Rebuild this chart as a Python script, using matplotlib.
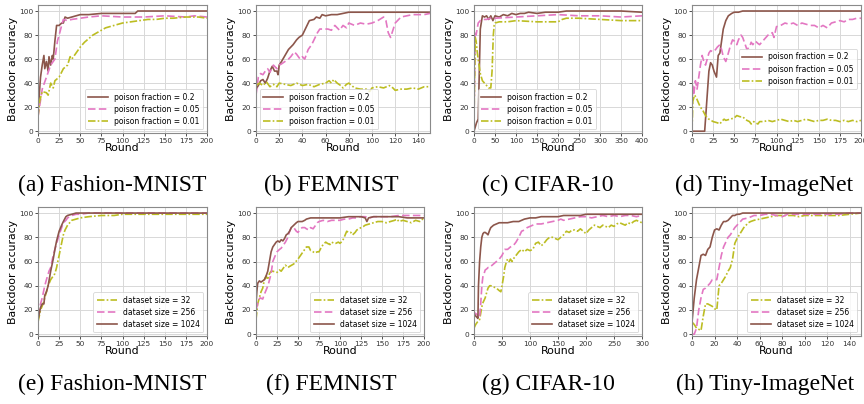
import matplotlib
matplotlib.use("Agg")
import matplotlib.pyplot as plt

# ---------------- data ----------------
# (a) Fashion-MNIST, poison fraction
a_x_hi = [0, 3, 5, 7, 8, 10, 12, 13, 15, 17, 18, 20, 22, 25, 28, 30, 32, 35, 40, 45, 50, 60, 75, 100, 115, 118, 125, 150, 175, 200]
a_y_hi = [15, 45, 55, 63, 52, 58, 50, 62, 55, 63, 60, 75, 88, 88, 90, 90, 95, 94, 95, 96, 97, 97, 98, 98, 98, 100, 100, 100, 100, 100]
a_x_mid = [0, 5, 10, 15, 20, 23, 25, 28, 30, 35, 40, 50, 60, 75, 100, 125, 150, 175, 185, 200]
a_y_mid = [12, 35, 45, 55, 60, 75, 80, 88, 93, 92, 93, 94, 95, 96, 95, 95, 96, 95, 96, 95]
a_x_lo = [0, 2, 5, 10, 12, 15, 18, 20, 25, 30, 35, 38, 40, 45, 50, 55, 60, 65, 70, 75, 80, 90, 100, 110, 120, 130, 140, 150, 160, 175, 190, 200]
a_y_lo = [12, 25, 33, 32, 30, 40, 36, 42, 45, 52, 55, 62, 60, 65, 70, 74, 77, 80, 82, 84, 86, 88, 90, 91, 92, 93, 93, 94, 94, 95, 95, 94]

# (b) FEMNIST, poison fraction
b_x_hi = [0, 2, 4, 6, 8, 10, 12, 14, 16, 18, 19, 20, 22, 25, 28, 30, 32, 35, 37, 40, 42, 44, 46, 50, 52, 55, 57, 60, 65, 70, 75, 80, 85, 90, 100, 120, 140, 150]
b_y_hi = [35, 38, 42, 43, 40, 44, 50, 54, 50, 50, 47, 55, 58, 63, 68, 70, 72, 76, 78, 80, 84, 88, 92, 93, 95, 94, 97, 96, 97, 97, 98, 99, 99, 99, 99, 99, 99, 99]
b_x_mid = [0, 2, 4, 6, 8, 10, 12, 15, 18, 20, 22, 25, 28, 30, 33, 35, 38, 40, 42, 45, 48, 50, 53, 55, 60, 62, 65, 68, 70, 72, 75, 78, 80, 85, 90, 95, 100, 105, 110, 112, 114, 116, 118, 120, 125, 130, 135, 140, 145, 150]
b_y_mid = [30, 45, 48, 47, 50, 52, 49, 55, 52, 55, 56, 58, 60, 62, 66, 64, 60, 62, 60, 68, 72, 76, 82, 85, 85, 85, 84, 88, 86, 84, 88, 86, 90, 88, 90, 89, 90, 92, 95, 92, 82, 78, 84, 90, 95, 96, 97, 97, 97, 98]
b_x_lo = [0, 3, 6, 9, 12, 15, 18, 20, 25, 30, 35, 40, 45, 50, 55, 60, 63, 65, 67, 70, 73, 75, 78, 80, 85, 90, 95, 98, 100, 105, 110, 115, 118, 120, 125, 130, 135, 140, 145, 150]
b_y_lo = [38, 40, 38, 41, 37, 39, 37, 40, 39, 38, 40, 38, 39, 37, 39, 40, 42, 40, 43, 40, 38, 36, 39, 40, 36, 35, 35, 33, 36, 37, 36, 38, 36, 34, 35, 35, 36, 35, 37, 37]

# (c) CIFAR-10, poison fraction
c_x_hi = [0, 6, 10, 15, 20, 25, 30, 35, 40, 45, 50, 60, 70, 80, 90, 100, 110, 120, 130, 150, 170, 200, 220, 250, 300, 350, 400]
c_y_hi = [0, 7, 10, 85, 96, 95, 96, 93, 96, 92, 96, 95, 97, 96, 98, 97, 98, 98, 99, 98, 99, 99, 100, 100, 100, 100, 99]
c_x_mid = [0, 3, 5, 10, 15, 20, 30, 40, 50, 100, 150, 200, 250, 300, 350, 400]
c_y_mid = [10, 82, 80, 90, 92, 93, 93, 94, 94, 95, 96, 97, 96, 96, 95, 96]
c_x_lo = [0, 3, 5, 8, 12, 15, 20, 25, 30, 35, 40, 43, 46, 48, 50, 60, 80, 100, 150, 200, 210, 220, 250, 300, 350, 400]
c_y_lo = [10, 78, 75, 65, 55, 48, 42, 40, 38, 36, 36, 50, 80, 88, 90, 91, 91, 92, 91, 91, 93, 94, 94, 93, 92, 92]

# (d) Tiny-ImageNet, poison fraction
d_x_hi = [0, 15, 17, 20, 22, 24, 26, 29, 31, 33, 35, 37, 40, 43, 47, 50, 55, 60, 70, 100, 150, 200]
d_y_hi = [0, 0, 20, 50, 57, 55, 50, 45, 63, 65, 75, 85, 92, 96, 98, 99, 99, 100, 100, 100, 100, 100]
d_x_mid = [0, 1, 2, 4, 6, 8, 10, 12, 14, 16, 18, 20, 22, 25, 28, 30, 33, 35, 37, 40, 43, 45, 48, 50, 53, 55, 58, 60, 63, 65, 68, 70, 72, 75, 78, 80, 85, 90, 95, 97, 100, 105, 110, 115, 120, 125, 130, 135, 140, 145, 150, 155, 160, 165, 170, 175, 180, 185, 190, 195, 200]
d_y_mid = [20, 38, 30, 42, 35, 45, 55, 63, 58, 55, 60, 65, 67, 66, 68, 70, 72, 68, 62, 58, 65, 70, 76, 75, 72, 76, 80, 78, 72, 68, 70, 74, 72, 75, 73, 72, 76, 80, 82, 78, 87, 88, 90, 89, 90, 88, 90, 89, 88, 88, 86, 88, 86, 90, 91, 92, 91, 93, 93, 94, 94]
d_x_lo = [0, 1, 3, 5, 8, 10, 13, 16, 20, 25, 30, 33, 35, 38, 40, 45, 50, 53, 57, 60, 63, 65, 68, 70, 73, 75, 78, 80, 85, 90, 95, 100, 105, 110, 115, 120, 125, 130, 135, 140, 145, 150, 155, 160, 165, 170, 175, 180, 185, 190, 195, 200]
d_y_lo = [0, 25, 30, 28, 23, 20, 17, 13, 10, 8, 7, 6, 8, 10, 9, 10, 11, 13, 12, 12, 10, 9, 8, 6, 8, 7, 6, 8, 8, 9, 8, 9, 10, 9, 8, 9, 8, 9, 10, 9, 8, 9, 9, 10, 9, 9, 8, 9, 8, 9, 8, 9]

# (e) Fashion-MNIST, dataset size
e_x_32 = [0, 3, 6, 8, 10, 12, 15, 18, 20, 22, 24, 25, 27, 30, 32, 35, 40, 45, 50, 60, 75, 90, 100, 125, 150, 175, 200]
e_y_32 = [10, 20, 25, 30, 35, 40, 45, 48, 50, 55, 62, 65, 72, 82, 86, 90, 94, 95, 96, 97, 98, 98, 99, 99, 99, 99, 99]
e_x_256 = [0, 3, 5, 8, 10, 13, 15, 18, 20, 22, 25, 28, 30, 33, 35, 40, 45, 50, 60, 200]
e_y_256 = [15, 25, 30, 40, 45, 52, 55, 65, 70, 75, 82, 88, 92, 94, 96, 98, 99, 99, 100, 100]
e_x_1024 = [0, 3, 5, 7, 8, 10, 12, 15, 18, 20, 22, 25, 28, 30, 33, 35, 40, 45, 200]
e_y_1024 = [12, 22, 25, 25, 32, 35, 40, 52, 62, 70, 77, 85, 90, 93, 97, 98, 99, 100, 100]

# (f) FEMNIST, dataset size
f_x_32 = [0, 2, 4, 6, 8, 10, 12, 14, 16, 18, 20, 25, 28, 30, 33, 35, 38, 40, 45, 50, 55, 58, 60, 63, 65, 68, 70, 73, 75, 78, 80, 83, 85, 88, 90, 93, 95, 98, 100, 103, 105, 108, 110, 113, 115, 118, 120, 125, 128, 130, 135, 140, 145, 150, 155, 160, 165, 168, 170, 175, 180, 185, 190, 195, 200]
f_y_32 = [12, 25, 30, 35, 38, 45, 48, 45, 50, 52, 52, 51, 53, 52, 55, 57, 55, 56, 58, 62, 67, 70, 72, 72, 69, 68, 67, 68, 68, 72, 74, 76, 75, 74, 76, 75, 75, 76, 75, 77, 80, 85, 84, 84, 82, 84, 86, 88, 89, 90, 91, 92, 93, 93, 92, 93, 94, 95, 93, 94, 93, 92, 94, 93, 96]
f_x_256 = [0, 3, 5, 8, 10, 13, 15, 18, 20, 23, 25, 28, 30, 33, 35, 38, 40, 42, 45, 48, 50, 53, 55, 58, 60, 63, 65, 68, 70, 73, 75, 80, 85, 90, 95, 100, 105, 110, 115, 120, 125, 130, 135, 140, 150, 160, 170, 180, 190, 200]
f_y_256 = [20, 28, 30, 29, 33, 38, 42, 50, 60, 65, 68, 70, 71, 74, 76, 80, 85, 88, 88, 85, 84, 87, 88, 88, 87, 86, 88, 87, 89, 92, 93, 94, 93, 94, 94, 94, 95, 95, 96, 96, 97, 97, 96, 97, 97, 97, 98, 98, 98, 98]
f_x_1024 = [0, 1, 2, 4, 6, 8, 10, 12, 14, 16, 18, 20, 22, 24, 26, 28, 30, 32, 34, 36, 38, 40, 42, 45, 48, 50, 55, 58, 60, 65, 70, 75, 80, 90, 100, 110, 120, 125, 130, 132, 134, 140, 150, 160, 170, 180, 190, 200]
f_y_1024 = [25, 35, 42, 44, 43, 44, 45, 48, 52, 60, 68, 72, 74, 76, 77, 76, 78, 77, 79, 82, 83, 85, 88, 90, 92, 93, 93, 94, 95, 96, 96, 96, 96, 96, 96, 97, 97, 97, 96, 93, 96, 97, 97, 97, 97, 96, 96, 96]

# (g) CIFAR-10, dataset size
g_x_32 = [0, 3, 6, 10, 13, 15, 18, 20, 23, 25, 28, 30, 35, 40, 45, 48, 50, 53, 55, 58, 60, 63, 65, 68, 70, 75, 80, 85, 90, 95, 100, 105, 110, 115, 120, 125, 130, 135, 140, 145, 150, 155, 160, 165, 170, 175, 180, 185, 190, 195, 200, 205, 210, 215, 220, 225, 230, 235, 240, 245, 250, 255, 260, 265, 270, 275, 280, 285, 290, 295, 300]
g_y_32 = [5, 8, 10, 12, 20, 25, 28, 30, 35, 38, 40, 40, 39, 38, 36, 35, 40, 48, 55, 60, 62, 60, 62, 60, 62, 65, 68, 70, 68, 70, 69, 70, 75, 76, 73, 75, 78, 80, 80, 79, 78, 80, 82, 85, 84, 86, 86, 85, 87, 85, 83, 86, 88, 90, 89, 88, 90, 89, 88, 90, 89, 91, 92, 91, 90, 92, 91, 93, 94, 93, 92]
g_x_256 = [0, 3, 6, 8, 10, 12, 14, 16, 18, 20, 23, 25, 28, 30, 35, 40, 45, 50, 55, 60, 65, 70, 75, 80, 85, 90, 95, 100, 110, 120, 130, 140, 150, 155, 160, 170, 180, 190, 200, 210, 220, 230, 240, 250, 260, 270, 280, 290, 300]
g_y_256 = [18, 17, 16, 13, 14, 25, 40, 48, 50, 53, 54, 55, 55, 56, 58, 60, 62, 65, 70, 70, 72, 73, 76, 80, 85, 86, 88, 89, 91, 91, 92, 93, 94, 95, 94, 95, 96, 97, 97, 96, 97, 98, 97, 98, 97, 98, 98, 97, 98]
g_x_1024 = [0, 3, 5, 7, 8, 10, 12, 14, 16, 18, 20, 23, 25, 28, 30, 35, 40, 45, 50, 60, 70, 80, 90, 100, 110, 120, 130, 140, 150, 160, 170, 180, 190, 200, 220, 250, 300]
g_y_1024 = [17, 15, 14, 13, 40, 60, 72, 80, 83, 84, 84, 83, 82, 86, 88, 90, 91, 92, 92, 92, 93, 93, 95, 96, 96, 97, 97, 97, 97, 98, 98, 98, 98, 99, 99, 99, 99]

# (h) Tiny-ImageNet, dataset size
h_x_32 = [0, 2, 4, 6, 8, 10, 12, 14, 16, 18, 20, 22, 24, 26, 28, 30, 32, 34, 36, 38, 40, 42, 44, 46, 48, 50, 52, 55, 60, 65, 70, 75, 80, 85, 90, 95, 100, 110, 120, 130, 140, 150]
h_y_32 = [10, 8, 5, 4, 3, 15, 25, 25, 24, 23, 21, 20, 40, 42, 45, 48, 52, 55, 62, 75, 79, 82, 85, 88, 90, 92, 93, 94, 95, 96, 97, 98, 98, 98, 98, 97, 98, 98, 98, 98, 99, 100]
h_x_256 = [0, 2, 4, 6, 8, 10, 12, 14, 16, 18, 20, 22, 24, 26, 28, 30, 32, 34, 36, 38, 40, 42, 45, 50, 55, 60, 65, 70, 75, 80, 85, 90, 100, 110, 120, 130, 140, 150]
h_y_256 = [0, 0, 5, 20, 30, 37, 38, 40, 42, 45, 45, 45, 55, 65, 72, 76, 80, 82, 85, 88, 90, 92, 95, 96, 98, 98, 99, 99, 98, 97, 99, 99, 99, 99, 99, 99, 100, 100]
h_x_1024 = [0, 2, 4, 6, 8, 10, 12, 14, 16, 18, 20, 22, 24, 26, 28, 30, 32, 34, 36, 38, 40, 42, 45, 150]
h_y_1024 = [10, 30, 45, 55, 65, 66, 65, 70, 72, 80, 86, 87, 86, 90, 93, 93, 94, 96, 98, 98, 99, 99, 100, 100]

top_labels = ["poison fraction = 0.2", "poison fraction = 0.05", "poison fraction = 0.01"]
bot_labels = ["dataset size = 32", "dataset size = 256", "dataset size = 1024"]
captions = ["(a) Fashion-MNIST", "(b) FEMNIST", "(c) CIFAR-10", "(d) Tiny-ImageNet",
            "(e) Fashion-MNIST", "(f) FEMNIST", "(g) CIFAR-10", "(h) Tiny-ImageNet"]
xmax = [200, 150, 400, 200, 200, 200, 300, 150]
xtick_step = [25, 20, 50, 25, 25, 25, 50, 20]

BROWN = "#8c564b"
PINK = "#e377c2"
OLIVE = "#bcbd22"

W, H = 864, 404
fig = plt.figure(figsize=(W / 100, H / 100), dpi=100)

# pixel boxes: left, right, top, bottom
boxes = [(38, 207, 5, 133), (256, 430, 5, 133), (474, 642, 5, 133), (692, 861, 5, 133),
         (38, 207, 207, 336), (256, 424, 207, 336), (474, 642, 207, 336), (692, 861, 207, 336)]
cap_pos = [(112, 185), (331, 185), (548, 185), (764, 185),
           (112, 384), (331, 384), (548, 384), (765, 384)]

top_series = [
    [(a_x_hi, a_y_hi), (a_x_mid, a_y_mid), (a_x_lo, a_y_lo)],
    [(b_x_hi, b_y_hi), (b_x_mid, b_y_mid), (b_x_lo, b_y_lo)],
    [(c_x_hi, c_y_hi), (c_x_mid, c_y_mid), (c_x_lo, c_y_lo)],
    [(d_x_hi, d_y_hi), (d_x_mid, d_y_mid), (d_x_lo, d_y_lo)],
]
bot_series = [
    [(e_x_32, e_y_32), (e_x_256, e_y_256), (e_x_1024, e_y_1024)],
    [(f_x_32, f_y_32), (f_x_256, f_y_256), (f_x_1024, f_y_1024)],
    [(g_x_32, g_y_32), (g_x_256, g_y_256), (g_x_1024, g_y_1024)],
    [(h_x_32, h_y_32), (h_x_256, h_y_256), (h_x_1024, h_y_1024)],
]
top_styles = [(BROWN, "-"), (PINK, (0, (4.5, 2))), (OLIVE, (0, (4.5, 1.3, 1, 1.3)))]
bot_styles = [(OLIVE, (0, (4.5, 1.3, 1, 1.3))), (PINK, (0, (4.5, 2))), (BROWN, "-")]
top_legend_loc = ["lower right", "lower left", "lower left", "center right"]

for i in range(8):
    l, r, t, b = boxes[i]
    ax = fig.add_axes([l / W, (H - b) / H, (r - l) / W, (b - t) / H])
    if i < 4:
        series = top_series[i]
        styles = top_styles
        labels = top_labels
        loc = top_legend_loc[i]
    else:
        series = bot_series[i - 4]
        styles = bot_styles
        labels = bot_labels
        loc = "lower right"
    for (xs, ys), (col, ls), lab in zip(series, styles, labels):
        ax.plot(xs, ys, color=col, linestyle=ls, lw=1.2, label=lab)
    ax.set_xlim(0, xmax[i])
    ax.set_ylim(-1.5, 105)
    ax.set_xticks(list(range(0, xmax[i] + 1, xtick_step[i])))
    ax.set_yticks([0, 20, 40, 60, 80, 100])
    ax.grid(True, color="#d8d8d8", lw=0.7)
    ax.set_axisbelow(True)
    for sp in ax.spines.values():
        sp.set_color("#8a8a8a")
        sp.set_linewidth(0.8)
    ax.tick_params(labelsize=5.3, length=2, width=0.6, pad=1.5, colors="#333333")
    ax.set_xlabel("Round", fontsize=7.8, labelpad=-0.5)
    ax.set_ylabel("Backdoor accuracy", fontsize=7.8, labelpad=0.5)
    leg = ax.legend(loc=loc, fontsize=5.5, handlelength=2.6, framealpha=0.8,
                    borderpad=0.45, labelspacing=0.4, handletextpad=0.8)
    leg.get_frame().set_linewidth(0.6)
    cx, cy = cap_pos[i]
    fig.text(cx / W, (H - cy) / H, captions[i], ha="center", va="center",
             fontsize=17, family="Liberation Serif")

fig.savefig("out.png", dpi=100)
